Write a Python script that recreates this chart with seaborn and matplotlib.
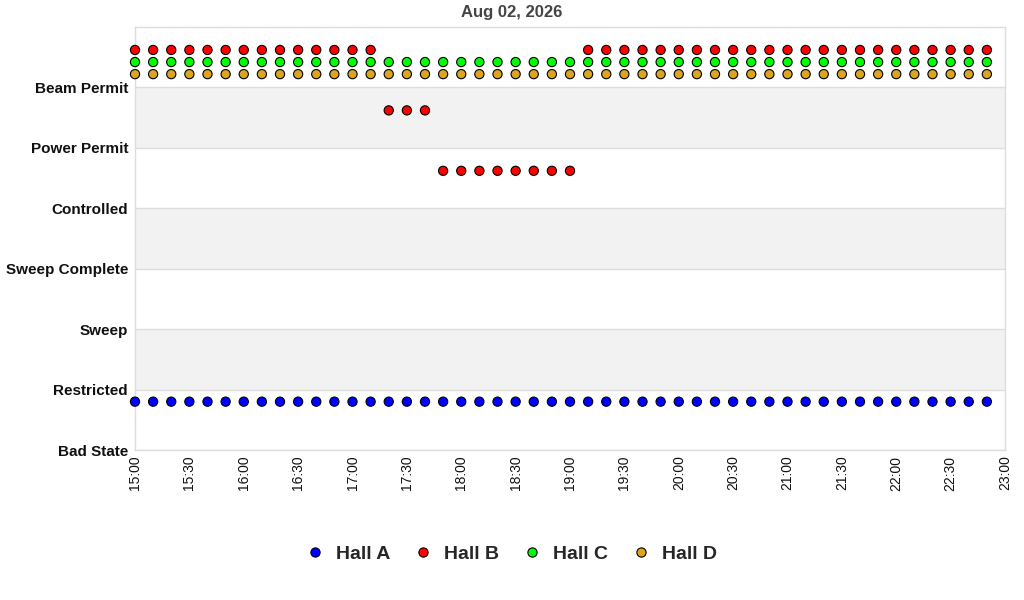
import pandas as pd
import matplotlib
matplotlib.use("Agg")
import matplotlib.pyplot as plt
import matplotlib.dates as mdates
import seaborn as sns

# ------------------------------------------------------------------
# Data
# ------------------------------------------------------------------
state_labels = ["Bad State", "Restricted", "Sweep", "Sweep Complete",
                "Controlled", "Power Permit", "Beam Permit"]

times = pd.date_range("2026-08-02 15:00", "2026-08-02 22:50", freq="10min")

hall_a = ["Restricted"] * 48
hall_b = (["Beam Permit"] * 14 + ["Power Permit"] * 3
          + ["Controlled"] * 8 + ["Beam Permit"] * 23)
hall_c = ["Beam Permit"] * 48
hall_d = ["Beam Permit"] * 48

halls = ["Hall A", "Hall B", "Hall C", "Hall D"]
hall_colors = ["#0000ff", "#ff0000", "#00ff00", "#daa520"]
# vertical offset of each hall inside a state band (display only)
hall_offsets = [-0.2, 0.62, 0.42, 0.22]

title = "Aug 02, 2026"

# ------------------------------------------------------------------
# Build long table
# ------------------------------------------------------------------
frames = []
for name, states, off in zip(halls, [hall_a, hall_b, hall_c, hall_d], hall_offsets):
    frames.append(pd.DataFrame({
        "time": times,
        "state": states,
        "hall": name,
        "level": [state_labels.index(s) + off for s in states],
    }))
df = pd.concat(frames, ignore_index=True)

# ------------------------------------------------------------------
# Plot
# ------------------------------------------------------------------
sns.set_theme(style="white")
plt.rcParams["font.family"] = ["Liberation Sans", "DejaVu Sans"]

fig = plt.figure(figsize=(10.24, 6), dpi=100)
ax = fig.add_axes([135 / 1024, 1 - 450 / 600, 870 / 1024, 423 / 600])

# alternating bands
for i in range(len(state_labels)):
    if i % 2 == 1:
        ax.axhspan(i, i + 1, color="#f2f2f2", zorder=0, lw=0)
    ax.axhline(i, color="#dddddd", lw=1, zorder=0.5)

sns.scatterplot(
    data=df, x="time", y="level", hue="hall",
    palette=dict(zip(halls, hall_colors)),
    s=44, edgecolor="black", linewidth=0.8,
    marker="o", ax=ax, zorder=3, clip_on=False,
)

ax.set_ylim(0, 7)
ax.set_yticks(range(len(state_labels)))
ax.set_yticklabels(state_labels, fontsize=11, fontweight="bold")
ax.set_xlim(pd.Timestamp("2026-08-02 15:00"), pd.Timestamp("2026-08-02 23:00"))
ax.xaxis.set_major_locator(mdates.MinuteLocator(byminute=[0, 30]))
ax.xaxis.set_major_formatter(mdates.DateFormatter("%H:%M"))
plt.setp(ax.get_xticklabels(), rotation=90, fontsize=10)
ax.tick_params(axis="y", length=0, pad=5, colors="#111111")
ax.tick_params(axis="x", length=0, pad=4, colors="#111111")
ax.set_xlabel("")
ax.set_ylabel("")

for side in ["left", "right", "top", "bottom"]:
    ax.spines[side].set_color("#dddddd")
    ax.spines[side].set_linewidth(1)

fig.text(0.5, 1 - 12 / 600, title, ha="center", va="center",
         fontsize=12, fontweight="bold", color="#444444")

handles, labels = ax.get_legend_handles_labels()
ax.legend_.remove()
for h in handles:
    h.set_markeredgecolor("black")
fig.legend(handles, labels, loc="center", bbox_to_anchor=(0.5, 1 - 554 / 600),
           ncol=4, frameon=False, prop={"weight": "bold", "size": 14},
           handlelength=0.8, handletextpad=0.67, columnspacing=1.3,
           markerscale=1.0)

fig.savefig("out.png", dpi=100)
